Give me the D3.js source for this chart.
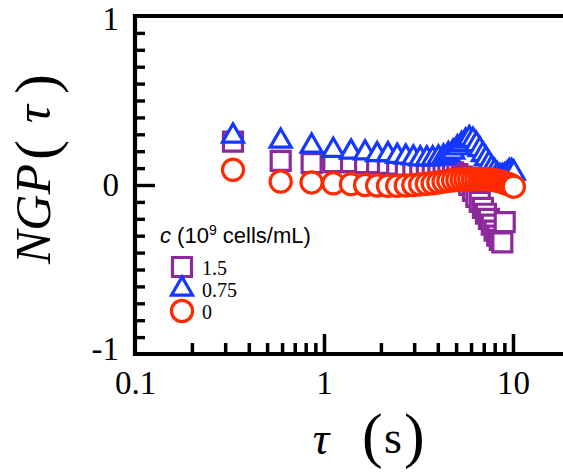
<!DOCTYPE html>
<html>
<head>
<meta charset="utf-8">
<script src="https://cdn.jsdelivr.net/npm/d3@7"></script>
<style>
  html, body { margin: 0; padding: 0; background: #fff; }
  svg { display: block; }
</style>
</head>
<body>
<svg id="chart" width="563" height="472"></svg>
<script>
// Lag times (s)
const tau = [0.33, 0.59, 0.86, 1.12, 1.39, 1.65, 1.91, 2.18, 2.44, 2.71,
             2.97, 3.23, 3.50, 3.76, 4.03, 4.29, 4.55, 4.82, 5.08, 5.35,
             5.61, 5.87, 6.14, 6.40, 6.67, 6.93, 7.19, 7.46, 7.72, 7.99,
             8.25, 8.51, 8.78, 9.04, 9.31, 9.57, 9.83, 10.1];

// Non-Gaussian parameter for each concentration (10^9 cells/mL)
const ngp150 = [0.257, 0.143, 0.13, 0.135, 0.135, 0.13, 0.13, 0.125, 0.12, 0.115,
                0.11, 0.105, 0.10, 0.095, 0.09, 0.085, 0.08, 0.075, 0.065, 0.05,
                0.035, 0.0, -0.035, -0.07, -0.10, -0.135, -0.17, -0.20, -0.235, -0.27,
                -0.30, -0.325, -0.34, -0.22];
const ngp075 = [0.29, 0.26, 0.23, 0.205, 0.195, 0.19, 0.18, 0.18, 0.17, 0.165,
                0.16, 0.155, 0.155, 0.155, 0.16, 0.165, 0.18, 0.195, 0.22, 0.24,
                0.26, 0.275, 0.265, 0.24, 0.21, 0.18, 0.155, 0.125, 0.10, 0.08,
                0.06, 0.05, 0.05, 0.055, 0.065, 0.08, 0.08, 0.07];
const ngp000 = [0.09, 0.02, 0.015, 0.01, 0.005, 0.0, -0.003, -0.005, -0.005, -0.003,
                0.0, 0.003, 0.007, 0.01, 0.015, 0.02, 0.025, 0.028, 0.03, 0.032,
                0.034, 0.035, 0.036, 0.036, 0.036, 0.035, 0.034, 0.033, 0.031, 0.029,
                0.026, 0.022, 0.018, 0.013, 0.008, 0.003, -0.003, -0.01];

const seriesLabels = ["1.5", "0.75", "0"];
const seriesColors = ["#8c2a9c", "#1438ff", "#ff2a00"];

const xMajorTicks = [0.1, 1, 10];
const xMajorLabels = ["0.1", "1", "10"];
const xMinorTicks = [0.2, 0.3, 0.4, 0.5, 0.6, 0.7, 0.8, 0.9, 2, 3, 4, 5, 6, 7, 8, 9, 20];
const yMajorTicks = [-1, 0, 1];
const yMajorLabels = ["-1", "0", "1"];
const yMinorTicks = [-0.9, -0.8, -0.7, -0.6, -0.5, -0.4, -0.3, -0.2, -0.1,
                     0.1, 0.2, 0.3, 0.4, 0.5, 0.6, 0.7, 0.8, 0.9];

const svg = d3.select("#chart");
const x = d3.scaleLog().domain([0.1, 10]).range([135, 513]);
const y = d3.scaleLinear().domain([-1, 1]).range([354, 16]);
const xRight = 600;
const serif = "'Liberation Serif', 'Times New Roman', serif";

// frame: left, top and bottom edges
const frame = svg.append("g").attr("stroke", "#000").attr("stroke-width", 4.2).attr("fill", "none");
frame.append("line").attr("x1", x(0.1)).attr("x2", x(0.1)).attr("y1", y(1) - 2.1).attr("y2", y(-1) + 2.1);
frame.append("line").attr("x1", x(0.1)).attr("x2", xRight).attr("y1", y(1)).attr("y2", y(1));
frame.append("line").attr("x1", x(0.1)).attr("x2", xRight).attr("y1", y(-1)).attr("y2", y(-1));

function styleAxis(g, w) {
  g.select(".domain").remove();
  g.selectAll(".tick line").attr("stroke", "#000").attr("stroke-width", w);
  g.selectAll(".tick text").attr("font-family", serif).attr("font-size", 33).attr("fill", "#000");
}

// x axis ticks (inside)
svg.append("g").attr("transform", `translate(0,${y(-1)})`)
  .call(d3.axisBottom(x).tickValues(xMinorTicks).tickSizeInner(-11).tickSizeOuter(0).tickFormat(""))
  .call(g => styleAxis(g, 3.5));
svg.append("g").attr("transform", `translate(0,${y(-1)})`)
  .call(d3.axisBottom(x).tickValues(xMajorTicks).tickSizeInner(-20).tickSizeOuter(0)
        .tickPadding(17).tickFormat((d, i) => xMajorLabels[i]))
  .call(g => styleAxis(g, 3.5))
  .call(g => g.selectAll(".tick").filter(d => d === 0.1).select("line").remove());

// y axis ticks (inside)
svg.append("g").attr("transform", `translate(${x(0.1)},0)`)
  .call(d3.axisLeft(y).tickValues(yMinorTicks).tickSizeInner(-10).tickSizeOuter(0).tickFormat(""))
  .call(g => styleAxis(g, 3.4));
svg.append("g").attr("transform", `translate(${x(0.1)},0)`)
  .call(d3.axisLeft(y).tickValues(yMajorTicks).tickSizeInner(-20).tickSizeOuter(0)
        .tickPadding(16).tickFormat((d, i) => yMajorLabels[i]))
  .call(g => styleAxis(g, 3.4))
  .call(g => g.selectAll(".tick").filter(d => d !== 0).select("line").remove())
  .call(g => g.selectAll(".tick").filter(d => d === 1).select("text").attr("dy", "0.40em"))
  .call(g => g.selectAll(".tick").filter(d => d === -1).select("text").attr("dy", "0.18em"));

// markers
const symSquare = d3.symbol().type(d3.symbolSquare).size(19 * 19);
const symTriangle = d3.symbol().type(d3.symbolTriangle).size(Math.sqrt(3) / 4 * 21 * 21);
const symCircle = d3.symbol().type(d3.symbolCircle).size(Math.PI * 10.6 * 10.6);
const symbols = [symSquare, symTriangle, symCircle];
const seriesValues = [ngp150, ngp075, ngp000];

seriesValues.forEach((vals, s) => {
  svg.append("g").selectAll("path")
    .data(vals.map((v, i) => [tau[i], v]))
    .join("path")
    .attr("transform", d => `translate(${x(d[0])},${y(d[1])})`)
    .attr("d", symbols[s]())
    .attr("fill", "#fff")
    .attr("stroke", seriesColors[s])
    .attr("stroke-width", 3.2);
});

// legend
const legend = svg.append("g");
const title = legend.append("text").attr("x", 160).attr("y", 243)
  .attr("font-family", "'Liberation Sans', Arial, sans-serif").attr("font-size", 22).attr("fill", "#000");
title.append("tspan").attr("font-style", "italic").text("c");
title.append("tspan").text(" (10");
title.append("tspan").attr("font-size", 14).attr("dy", -8).text("9");
title.append("tspan").attr("dy", 8).text(" cells/mL)");

const legendY = [267, 289, 311];
seriesLabels.forEach((lab, s) => {
  legend.append("path")
    .attr("transform", `translate(182,${legendY[s]})`)
    .attr("d", symbols[s]())
    .attr("fill", "#fff")
    .attr("stroke", seriesColors[s])
    .attr("stroke-width", 3.2);
  legend.append("text").attr("x", 202).attr("y", legendY[s] + 8)
    .attr("font-family", serif).attr("font-size", 20).attr("fill", "#000").text(lab);
});

// axis titles
const xt = svg.append("g").attr("font-family", serif).attr("fill", "#000");
xt.append("text").attr("x", 321).attr("y", 454).attr("text-anchor", "middle")
  .attr("font-size", 46).attr("font-style", "italic").text("\u03c4");
xt.append("text").attr("x", 362).attr("y", 456).attr("font-size", 62).text("(");
xt.append("text").attr("x", 384).attr("y", 453).attr("font-size", 46).text("s");
xt.append("text").attr("x", 404).attr("y", 456).attr("font-size", 62).text(")");

const yt = svg.append("g").attr("font-family", serif).attr("fill", "#000")
  .attr("transform", "translate(50,0) rotate(-90)");
yt.append("text").attr("x", -264).attr("y", 0).attr("font-size", 50)
  .attr("font-style", "italic").text("NGP");
yt.append("text").attr("x", -160).attr("y", 6).attr("font-size", 60).text("(");
yt.append("text").attr("x", -114).attr("y", 0).attr("text-anchor", "middle").attr("font-size", 50)
  .attr("font-style", "italic").text("\u03c4");
yt.append("text").attr("x", -94).attr("y", 6).attr("font-size", 60).text(")");
</script>
</body>
</html>
